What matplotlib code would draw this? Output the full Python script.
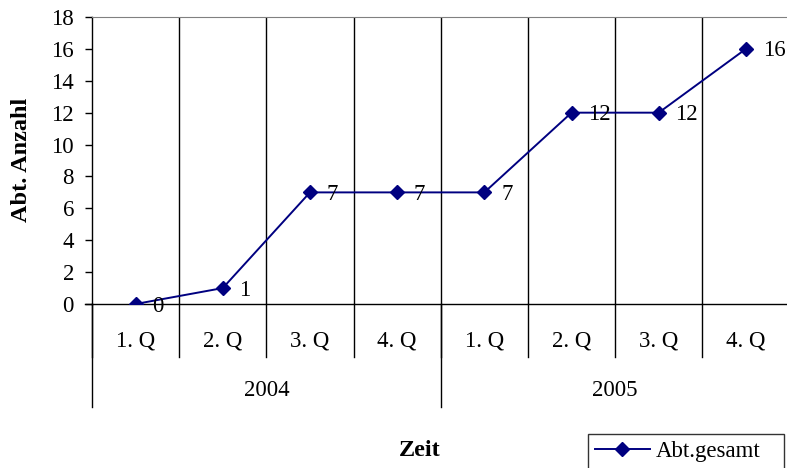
import numpy as np
import matplotlib.pyplot as plt
from matplotlib.lines import Line2D

plt.rcParams['font.family'] = ['Liberation Serif', 'DejaVu Serif']

quarters = ["1. Q", "2. Q", "3. Q", "4. Q", "1. Q", "2. Q", "3. Q", "4. Q"]
years = ["2004", "2005"]
abt_gesamt = [0, 1, 7, 7, 7, 12, 12, 16]

NAVY = "#000080"
FONT = 16.5

W, H = 787, 468
fig = plt.figure(figsize=(W / 100, H / 100), dpi=100)
left, right, top, bottom = 92, 789.5, 17, 304
ax = fig.add_axes([left / W, 1 - bottom / H, (right - left) / W, (bottom - top) / H])

n = len(abt_gesamt)
x = np.arange(n) + 0.5
ax.plot(x, abt_gesamt, '-', color=NAVY, linewidth=1.4, marker='D', markersize=7.5,
        label="Abt.gesamt", zorder=5)
for xi, v in zip(x, abt_gesamt):
    ax.annotate(str(v), (xi, v), xytext=(12, -1.5), textcoords='offset points',
                ha='left', va='center', fontsize=FONT, zorder=6)

ax.set_xlim(0, n)
ax.set_ylim(0, 18)
ax.set_yticks(np.arange(0, 19, 2))
ax.tick_params(axis='y', direction='out', length=5, width=1, labelsize=FONT, pad=8)
ax.set_xticks([])

for b in range(1, n):
    ax.axvline(b, color='black', linewidth=1, zorder=1)

ax.spines['top'].set_color('#808080')
ax.spines['right'].set_color('#808080')
ax.spines['left'].set_linewidth(1)
ax.spines['bottom'].set_linewidth(1)

# two-level category axis below the plot
px = bottom - top
tr = ax.get_xaxis_transform()
for i, q in enumerate(quarters):
    ax.text(i + 0.5, (bottom - 341) / px, q, transform=tr, ha='center', va='center',
            fontsize=FONT)
for b in range(0, n + 1):
    ax.add_line(Line2D([b, b], [0, (bottom - 357) / px], transform=tr,
                       color='black', linewidth=1, clip_on=False))
per_year = n // len(years)
for j, yr in enumerate(years):
    ax.text(j * per_year + per_year / 2, (bottom - 390) / px, yr, transform=tr,
            ha='center', va='center', fontsize=FONT)
for j in range(len(years) + 1):
    b = j * per_year
    ax.add_line(Line2D([b, b], [0, (bottom - 407) / px], transform=tr,
                       color='black', linewidth=1, clip_on=False))
ax.add_line(Line2D([-0.08, 0], [0, 0], transform=tr, color='black', linewidth=1,
                   clip_on=False))

fig.text(22 / W, 1 - 160 / H, "Abt. Anzahl", rotation=90, ha='center', va='center',
         fontsize=17.5, fontweight='bold')
fig.text(420 / W, 1 - 451 / H, "Zeit", ha='center', va='center',
         fontsize=17.5, fontweight='bold')

leg_top = 1 - 434 / H
leg = fig.legend(loc='upper left', bbox_to_anchor=(588 / W, leg_top - 0.1, 196 / W, 0.1),
                 mode='expand', fontsize=FONT, frameon=True, fancybox=False,
                 edgecolor='black', borderpad=0.3, handlelength=2.4,
                 handletextpad=0.25, borderaxespad=0)
leg.get_frame().set_linewidth(1)

fig.savefig("out.png", dpi=100)
